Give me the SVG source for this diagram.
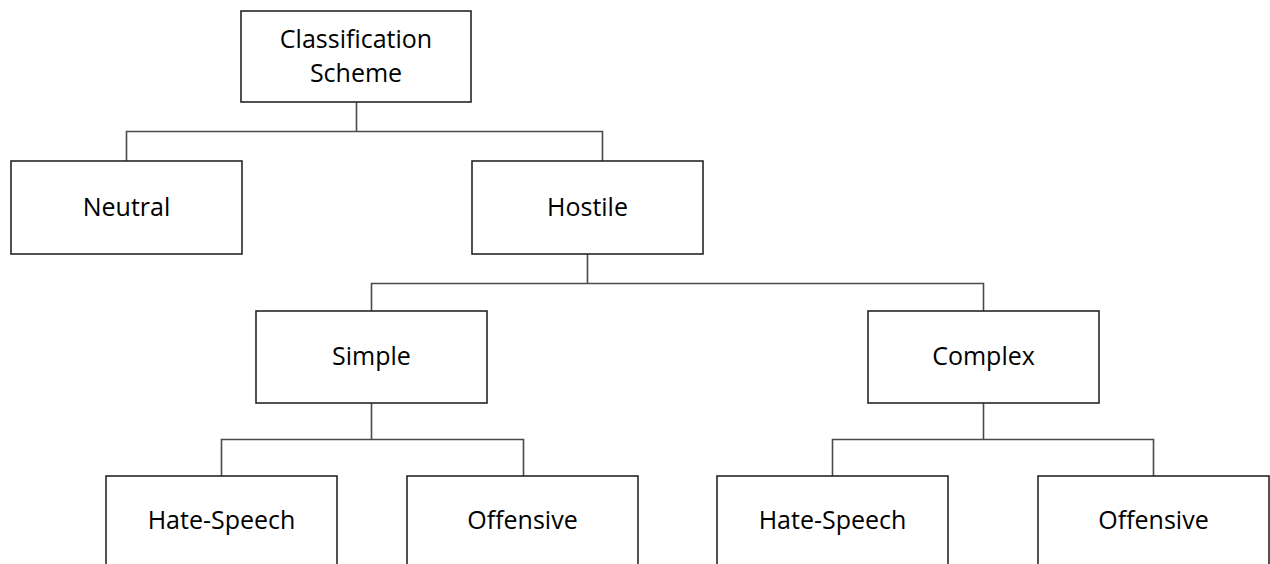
<svg xmlns="http://www.w3.org/2000/svg" width="1270" height="564" viewBox="0 0 1270 564">
<style>
.box{fill:#fff;stroke:#262626;stroke-width:1.6}
.lbl{font-family:"Open Sans","Liberation Sans",sans-serif;font-size:25px;fill:#000;text-anchor:middle}
.con{fill:none;stroke:#4a4a4a;stroke-width:1.6}
</style>
<rect width="1270" height="564" fill="#fff"/>
<g id="connectors">
<path class="con" d="M356.5 102V131.5M126.5 161V131.5H602.5V161"/>
<path class="con" d="M587.5 254V283.5M371.5 311V283.5H983.5V311"/>
<path class="con" d="M371.5 403V439.5M221.5 476V439.5H523.5V476"/>
<path class="con" d="M983.5 403V439.5M832.5 476V439.5H1153.5V476"/>
</g>
<g id="root"><rect class="box" x="241" y="11" width="230" height="91"/><text class="lbl" x="356" y="48">Classification</text><text class="lbl" x="356" y="82">Scheme</text></g>
<g id="neutral"><rect class="box" x="11" y="161" width="231" height="93"/><text class="lbl" x="126.5" y="216">Neutral</text></g>
<g id="hostile"><rect class="box" x="472" y="161" width="231" height="93"/><text class="lbl" x="587.5" y="216">Hostile</text></g>
<g id="simple"><rect class="box" x="256" y="311" width="231" height="92"/><text class="lbl" x="371.5" y="365">Simple</text></g>
<g id="complex"><rect class="box" x="868" y="311" width="231" height="92"/><text class="lbl" x="983.5" y="365">Complex</text></g>
<g id="simple-hate"><rect class="box" x="106" y="476" width="231" height="100"/><text class="lbl" x="221.5" y="529">Hate-Speech</text></g>
<g id="simple-offensive"><rect class="box" x="407" y="476" width="231" height="100"/><text class="lbl" x="522.5" y="529">Offensive</text></g>
<g id="complex-hate"><rect class="box" x="717" y="476" width="231" height="100"/><text class="lbl" x="832.5" y="529">Hate-Speech</text></g>
<g id="complex-offensive"><rect class="box" x="1038" y="476" width="231" height="100"/><text class="lbl" x="1153.5" y="529">Offensive</text></g>
</svg>
